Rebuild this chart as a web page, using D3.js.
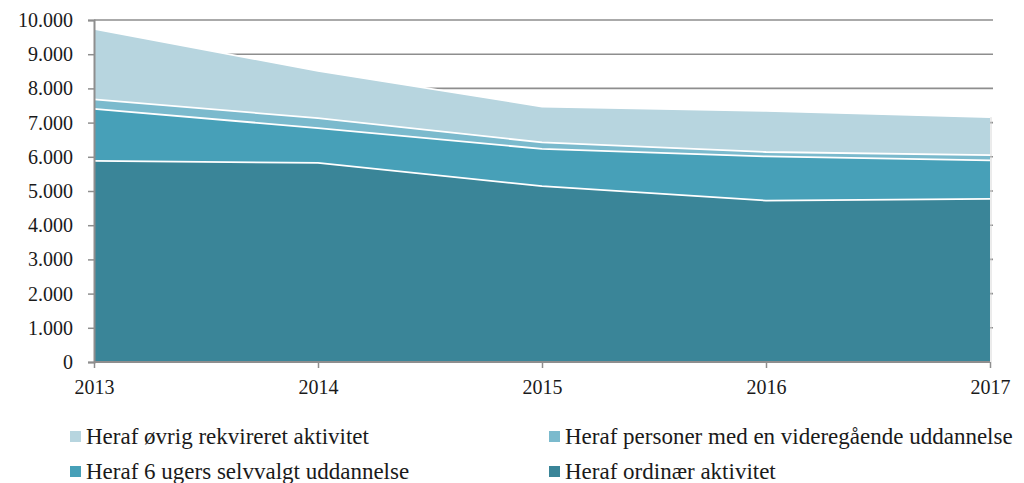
<!DOCTYPE html>
<html>
<head>
<meta charset="utf-8">
<script src="https://d3js.org/d3.v7.min.js"></script>
<style>
  body { margin: 0; background: #fff; }
</style>
</head>
<body>
<script>
// values
var years = [2013, 2014, 2015, 2016, 2017];
var ordinaer = [5880, 5820, 5140, 4720, 4770];
var seksUger = [1520, 1020, 1090, 1290, 1125];
var personer = [280, 290, 190, 130, 155];
var oevrig = [2060, 1380, 1050, 1200, 1110];
var seriesNames = ["Heraf ordinær aktivitet", "Heraf 6 ugers selvvalgt uddannelse",
    "Heraf personer med en videregående uddannelse", "Heraf øvrig rekvireret aktivitet"];
var colors = ["#3a8598", "#47a0b8", "#7bbacd", "#b7d5df"];
var yTicks = [0, 1000, 2000, 3000, 4000, 5000, 6000, 7000, 8000, 9000, 10000];

var width = 1024, height = 483;
var font = "'Liberation Serif', 'Times New Roman', serif";
var rows = years.map(function(y, i) {
    return { year: y, s0: ordinaer[i], s1: seksUger[i], s2: personer[i], s3: oevrig[i] };
});
var keys = ["s0", "s1", "s2", "s3"];

var svg = d3.select("body").append("svg")
    .attr("width", width)
    .attr("height", height);

var x = d3.scaleLinear().domain([2013, 2017]).range([94, 990]);
var y = d3.scaleLinear().domain([0, 10000]).range([362, 20]);

// gridlines
svg.append("g")
    .selectAll("line")
    .data(yTicks.filter(d => d > 0))
    .join("line")
        .attr("x1", 94)
        .attr("x2", 993)
        .attr("y1", d => y(d))
        .attr("y2", d => y(d))
        .attr("stroke", "#8e8e8e")
        .attr("stroke-width", 1.6);

var stack = d3.stack().keys(keys);
var layers = stack(rows);

var area = d3.area()
    .x(d => x(d.data.year))
    .y0(d => y(d[0]))
    .y1(d => y(d[1]));

svg.append("g")
    .selectAll("path")
    .data(layers)
    .join("path")
        .attr("d", area)
        .attr("fill", (d, i) => colors[i]);

// white separator on top of each layer
var topLine = d3.line()
    .x(d => x(d.data.year))
    .y(d => y(d[1]));
svg.append("g")
    .selectAll("path")
    .data(layers)
    .join("path")
        .attr("d", topLine)
        .attr("fill", "none")
        .attr("stroke", "#fff")
        .attr("stroke-width", 1.8);

// thin light edge on the right side
svg.append("line")
    .attr("x1", x(2017) + 1).attr("x2", x(2017) + 1)
    .attr("y1", y(oevrig[4] + personer[4] + seksUger[4] + ordinaer[4]))
    .attr("y2", y(0))
    .attr("stroke", "#d8d8d8")
    .attr("stroke-width", 1);

// axes
var yAxis = d3.axisLeft(y)
    .tickValues(yTicks)
    .tickSize(6)
    .tickPadding(15)
    .tickFormat(d => d3.format(",")(d).replace(/,/g, "."));
var gy = svg.append("g")
    .attr("transform", "translate(94,0)")
    .call(yAxis);
gy.select(".domain").attr("stroke", "#8e8e8e").attr("stroke-width", 2);
gy.selectAll(".tick line").attr("stroke", "#8e8e8e").attr("stroke-width", 1.5);
gy.selectAll(".tick text")
    .style("font-family", font)
    .style("font-size", "20px")
    .attr("fill", "#1a1a1a");

var xAxis = d3.axisBottom(x)
    .tickValues(years)
    .tickSize(6)
    .tickPadding(12)
    .tickFormat(d3.format("d"));
var gx = svg.append("g")
    .attr("transform", "translate(0,362)")
    .call(xAxis);
gx.select(".domain").attr("stroke", "#8e8e8e").attr("stroke-width", 2).attr("d", "M94,0H990");
gx.selectAll(".tick line").attr("stroke", "#8e8e8e").attr("stroke-width", 1.5);
gx.selectAll(".tick text")
    .style("font-family", font)
    .style("font-size", "20px")
    .attr("fill", "#1a1a1a");

// legend
var legendItems = [
    { name: seriesNames[3], color: colors[3], lx: 70, ly: 437 },
    { name: seriesNames[2], color: colors[2], lx: 549, ly: 437 },
    { name: seriesNames[1], color: colors[1], lx: 70, ly: 472 },
    { name: seriesNames[0], color: colors[0], lx: 549, ly: 472 }
];
var legend = svg.append("g")
    .selectAll("g")
    .data(legendItems)
    .join("g")
        .attr("transform", d => "translate(" + d.lx + "," + d.ly + ")");
legend.append("rect")
    .attr("x", 0)
    .attr("y", -6)
    .attr("width", 11)
    .attr("height", 11)
    .attr("fill", d => d.color);
legend.append("text")
    .attr("x", 16)
    .attr("y", 7)
    .style("font-family", font)
    .style("font-size", "23px")
    .attr("fill", "#1a1a1a")
    .text(d => d.name);
</script>
</body>
</html>
